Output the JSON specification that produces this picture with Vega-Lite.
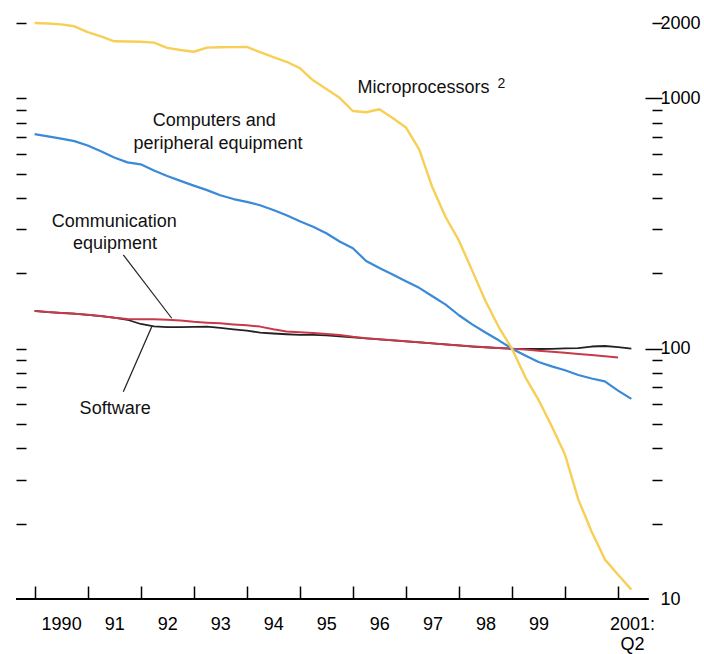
{
  "$schema": "https://vega.github.io/schema/vega-lite/v6.json",
  "width": 646,
  "height": 576,
  "autosize": {"type": "none"},
  "padding": {"left": 16, "top": 23, "right": 42, "bottom": 55},
  "background": "white",
  "config": {"view": {"stroke": null}, "font": "Liberation Sans"},
  "datasets": {
    "series": [
      {"s":"Software","t":1990,"v":141.5},{"s":"Software","t":1990.25,"v":140},{"s":"Software","t":1990.5,"v":139},{"s":"Software","t":1990.75,"v":138},
      {"s":"Software","t":1991,"v":136.5},{"s":"Software","t":1991.25,"v":135},{"s":"Software","t":1991.5,"v":133},{"s":"Software","t":1991.75,"v":130.5},
      {"s":"Software","t":1992,"v":125.5},{"s":"Software","t":1992.25,"v":122.7},{"s":"Software","t":1992.5,"v":122},{"s":"Software","t":1992.75,"v":122},
      {"s":"Software","t":1993,"v":122.3},{"s":"Software","t":1993.25,"v":122.5},{"s":"Software","t":1993.5,"v":121},{"s":"Software","t":1993.75,"v":119.5},
      {"s":"Software","t":1994,"v":118},{"s":"Software","t":1994.25,"v":116},{"s":"Software","t":1994.5,"v":115},{"s":"Software","t":1994.75,"v":114.2},
      {"s":"Software","t":1995,"v":113.5},{"s":"Software","t":1995.25,"v":113.5},{"s":"Software","t":1995.5,"v":113},{"s":"Software","t":1995.75,"v":112},
      {"s":"Software","t":1996,"v":111},{"s":"Software","t":1996.25,"v":110},{"s":"Software","t":1996.5,"v":109},{"s":"Software","t":1996.75,"v":108},
      {"s":"Software","t":1997,"v":107},{"s":"Software","t":1997.25,"v":106},{"s":"Software","t":1997.5,"v":105},{"s":"Software","t":1997.75,"v":104},
      {"s":"Software","t":1998,"v":103},{"s":"Software","t":1998.25,"v":102},{"s":"Software","t":1998.5,"v":101.3},{"s":"Software","t":1998.75,"v":100.6},
      {"s":"Software","t":1999,"v":100},{"s":"Software","t":1999.25,"v":99.8},{"s":"Software","t":1999.5,"v":99.7},{"s":"Software","t":1999.75,"v":99.8},
      {"s":"Software","t":2000,"v":100.2},{"s":"Software","t":2000.25,"v":100.6},{"s":"Software","t":2000.5,"v":102},{"s":"Software","t":2000.75,"v":102.5},
      {"s":"Software","t":2001,"v":101.5},{"s":"Software","t":2001.25,"v":100},

      {"s":"Communication equipment","t":1990,"v":141.5},{"s":"Communication equipment","t":1990.25,"v":140},{"s":"Communication equipment","t":1990.5,"v":139},{"s":"Communication equipment","t":1990.75,"v":138},
      {"s":"Communication equipment","t":1991,"v":136.5},{"s":"Communication equipment","t":1991.25,"v":135},{"s":"Communication equipment","t":1991.5,"v":133},{"s":"Communication equipment","t":1991.75,"v":131.5},
      {"s":"Communication equipment","t":1992,"v":131},{"s":"Communication equipment","t":1992.25,"v":131},{"s":"Communication equipment","t":1992.5,"v":130.6},{"s":"Communication equipment","t":1992.75,"v":129.5},
      {"s":"Communication equipment","t":1993,"v":128},{"s":"Communication equipment","t":1993.25,"v":127},{"s":"Communication equipment","t":1993.5,"v":126.3},{"s":"Communication equipment","t":1993.75,"v":125},
      {"s":"Communication equipment","t":1994,"v":124},{"s":"Communication equipment","t":1994.25,"v":122.5},{"s":"Communication equipment","t":1994.5,"v":119.5},{"s":"Communication equipment","t":1994.75,"v":117},
      {"s":"Communication equipment","t":1995,"v":116.3},{"s":"Communication equipment","t":1995.25,"v":115.5},{"s":"Communication equipment","t":1995.5,"v":114.5},{"s":"Communication equipment","t":1995.75,"v":113.5},
      {"s":"Communication equipment","t":1996,"v":111.5},{"s":"Communication equipment","t":1996.25,"v":110},{"s":"Communication equipment","t":1996.5,"v":109},{"s":"Communication equipment","t":1996.75,"v":108},
      {"s":"Communication equipment","t":1997,"v":107},{"s":"Communication equipment","t":1997.25,"v":106},{"s":"Communication equipment","t":1997.5,"v":105},{"s":"Communication equipment","t":1997.75,"v":104},
      {"s":"Communication equipment","t":1998,"v":103},{"s":"Communication equipment","t":1998.25,"v":102.2},{"s":"Communication equipment","t":1998.5,"v":101.3},{"s":"Communication equipment","t":1998.75,"v":100.6},
      {"s":"Communication equipment","t":1999,"v":100},{"s":"Communication equipment","t":1999.25,"v":99.2},{"s":"Communication equipment","t":1999.5,"v":98.2},{"s":"Communication equipment","t":1999.75,"v":97.3},
      {"s":"Communication equipment","t":2000,"v":96.3},{"s":"Communication equipment","t":2000.25,"v":95.3},{"s":"Communication equipment","t":2000.5,"v":94.3},{"s":"Communication equipment","t":2000.75,"v":93.3},
      {"s":"Communication equipment","t":2001,"v":92.3},

      {"s":"Computers and peripheral equipment","t":1990,"v":720},{"s":"Computers and peripheral equipment","t":1990.25,"v":705},{"s":"Computers and peripheral equipment","t":1990.5,"v":690},{"s":"Computers and peripheral equipment","t":1990.75,"v":675},
      {"s":"Computers and peripheral equipment","t":1991,"v":648},{"s":"Computers and peripheral equipment","t":1991.25,"v":615},{"s":"Computers and peripheral equipment","t":1991.5,"v":580},{"s":"Computers and peripheral equipment","t":1991.75,"v":555},
      {"s":"Computers and peripheral equipment","t":1992,"v":545},{"s":"Computers and peripheral equipment","t":1992.25,"v":515},{"s":"Computers and peripheral equipment","t":1992.5,"v":490},{"s":"Computers and peripheral equipment","t":1992.75,"v":468},
      {"s":"Computers and peripheral equipment","t":1993,"v":448},{"s":"Computers and peripheral equipment","t":1993.25,"v":430},{"s":"Computers and peripheral equipment","t":1993.5,"v":410},{"s":"Computers and peripheral equipment","t":1993.75,"v":396},
      {"s":"Computers and peripheral equipment","t":1994,"v":386},{"s":"Computers and peripheral equipment","t":1994.25,"v":374},{"s":"Computers and peripheral equipment","t":1994.5,"v":358},{"s":"Computers and peripheral equipment","t":1994.75,"v":341},
      {"s":"Computers and peripheral equipment","t":1995,"v":323},{"s":"Computers and peripheral equipment","t":1995.25,"v":307},{"s":"Computers and peripheral equipment","t":1995.5,"v":289},{"s":"Computers and peripheral equipment","t":1995.75,"v":268},
      {"s":"Computers and peripheral equipment","t":1996,"v":252},{"s":"Computers and peripheral equipment","t":1996.25,"v":224},{"s":"Computers and peripheral equipment","t":1996.5,"v":210},{"s":"Computers and peripheral equipment","t":1996.75,"v":198},
      {"s":"Computers and peripheral equipment","t":1997,"v":186},{"s":"Computers and peripheral equipment","t":1997.25,"v":175},{"s":"Computers and peripheral equipment","t":1997.5,"v":162},{"s":"Computers and peripheral equipment","t":1997.75,"v":150},
      {"s":"Computers and peripheral equipment","t":1998,"v":136},{"s":"Computers and peripheral equipment","t":1998.25,"v":125},{"s":"Computers and peripheral equipment","t":1998.5,"v":116},{"s":"Computers and peripheral equipment","t":1998.75,"v":108},
      {"s":"Computers and peripheral equipment","t":1999,"v":100},{"s":"Computers and peripheral equipment","t":1999.25,"v":94},{"s":"Computers and peripheral equipment","t":1999.5,"v":88.5},{"s":"Computers and peripheral equipment","t":1999.75,"v":85},
      {"s":"Computers and peripheral equipment","t":2000,"v":82},{"s":"Computers and peripheral equipment","t":2000.25,"v":78.5},{"s":"Computers and peripheral equipment","t":2000.5,"v":76},{"s":"Computers and peripheral equipment","t":2000.75,"v":74},
      {"s":"Computers and peripheral equipment","t":2001,"v":68},{"s":"Computers and peripheral equipment","t":2001.25,"v":63},

      {"s":"Microprocessors","t":1990,"v":2000},{"s":"Microprocessors","t":1990.25,"v":1990},{"s":"Microprocessors","t":1990.5,"v":1975},{"s":"Microprocessors","t":1990.75,"v":1940},
      {"s":"Microprocessors","t":1991,"v":1840},{"s":"Microprocessors","t":1991.25,"v":1770},{"s":"Microprocessors","t":1991.5,"v":1690},{"s":"Microprocessors","t":1991.75,"v":1687},
      {"s":"Microprocessors","t":1992,"v":1684},{"s":"Microprocessors","t":1992.25,"v":1670},{"s":"Microprocessors","t":1992.5,"v":1591},{"s":"Microprocessors","t":1992.75,"v":1560},
      {"s":"Microprocessors","t":1993,"v":1535},{"s":"Microprocessors","t":1993.25,"v":1595},{"s":"Microprocessors","t":1993.5,"v":1600},{"s":"Microprocessors","t":1993.75,"v":1602},
      {"s":"Microprocessors","t":1994,"v":1605},{"s":"Microprocessors","t":1994.25,"v":1530},{"s":"Microprocessors","t":1994.5,"v":1460},{"s":"Microprocessors","t":1994.75,"v":1400},
      {"s":"Microprocessors","t":1995,"v":1320},{"s":"Microprocessors","t":1995.25,"v":1180},{"s":"Microprocessors","t":1995.5,"v":1090},{"s":"Microprocessors","t":1995.75,"v":1005},
      {"s":"Microprocessors","t":1996,"v":890},{"s":"Microprocessors","t":1996.25,"v":880},{"s":"Microprocessors","t":1996.5,"v":905},{"s":"Microprocessors","t":1996.75,"v":835},
      {"s":"Microprocessors","t":1997,"v":765},{"s":"Microprocessors","t":1997.25,"v":625},{"s":"Microprocessors","t":1997.5,"v":440},{"s":"Microprocessors","t":1997.75,"v":335},
      {"s":"Microprocessors","t":1998,"v":270},{"s":"Microprocessors","t":1998.25,"v":205},{"s":"Microprocessors","t":1998.5,"v":155},{"s":"Microprocessors","t":1998.75,"v":122},
      {"s":"Microprocessors","t":1999,"v":100},{"s":"Microprocessors","t":1999.25,"v":77},{"s":"Microprocessors","t":1999.5,"v":62.5},{"s":"Microprocessors","t":1999.75,"v":49},
      {"s":"Microprocessors","t":2000,"v":37.7},{"s":"Microprocessors","t":2000.25,"v":25},{"s":"Microprocessors","t":2000.5,"v":18.6},{"s":"Microprocessors","t":2000.75,"v":14.4},
      {"s":"Microprocessors","t":2001,"v":12.5},{"s":"Microprocessors","t":2001.25,"v":10.9}
    ],
    "baseline": [{"t": 1989.649, "t2": 2001.58, "v": 10}],
    "leaders": [
      {"t": 1991.672, "v": 236.8, "t2": 1992.585, "v2": 132.3},
      {"t": 1992.208, "v": 122.4, "t2": 1991.672, "v2": 67.3}
    ],
    "labels": [
      {"t": 1997.33, "v": 1100, "text": "Microprocessors"},
      {"t": 1993.386, "v": 815, "text": "Computers and"},
      {"t": 1993.458, "v": 655, "text": "peripheral equipment"},
      {"t": 1991.5, "v": 320, "text": "Communication"},
      {"t": 1991.516, "v": 262, "text": "equipment"},
      {"t": 1991.518, "v": 57.5, "text": "Software"}
    ],
    "notes": [{"t": 1998.80, "v": 1140, "text": "2"}]
  },
  "layer": [
    {
      "data": {"name": "series"},
      "mark": {"type": "line", "interpolate": "linear", "strokeJoin": "round", "strokeCap": "butt"},
      "encoding": {
        "x": {
          "field": "t", "type": "quantitative",
          "scale": {"domain": [1989.649, 2001.828], "nice": false, "zero": false},
          "axis": {
            "values": [1990, 1991, 1992, 1993, 1994, 1995, 1996, 1997, 1998, 1999, 2000, 2001],
            "title": null, "grid": false, "domain": false,
            "tickSize": -13, "tickWidth": 1.5, "tickColor": "#000",
            "labelExpr": "datum.value == 1990 ? '1990' : datum.value == 2000 ? '' : datum.value == 2001 ? ['2001:', 'Q2'] : substring(toString(datum.value), 2)",
            "labelOffset": {"condition": {"test": "datum.value == 2001", "value": 14}, "value": 26.5},
            "labelFont": "Liberation Sans", "labelFontSize": 18, "labelColor": "#000",
            "labelPadding": 29, "labelLineHeight": 20, "labelBaseline": "top",
            "labelFlush": false, "labelOverlap": false, "labelBound": false
          }
        },
        "y": {
          "field": "v", "type": "quantitative",
          "scale": {"type": "log", "domain": [10, 2000], "nice": false},
          "axis": {
            "orient": "right",
            "values": [10, 20, 30, 40, 50, 60, 70, 80, 90, 100, 200, 300, 400, 500, 600, 700, 800, 900, 1000, 2000],
            "title": null, "grid": false, "domain": false,
            "tickSize": {"condition": {"test": "datum.value == 100 || datum.value == 1000", "value": -17}, "value": -10},
            "tickOpacity": {"condition": {"test": "datum.value == 10", "value": 0}, "value": 1},
            "tickWidth": 1.5, "tickColor": "#000",
            "labelExpr": "(datum.value == 10 || datum.value == 100 || datum.value == 1000 || datum.value == 2000) ? format(datum.value, 'd') : ''",
            "labelFont": "Liberation Sans", "labelFontSize": 18, "labelColor": "#000",
            "labelPadding": {"condition": {"test": "datum.value == 100 || datum.value == 1000", "value": 15}, "value": 8},
            "labelAlign": "left", "labelBaseline": "middle",
            "labelFlush": false, "labelOverlap": false, "labelBound": false
          }
        },
        "color": {
          "field": "s", "type": "nominal", "legend": null,
          "scale": {
            "domain": ["Software", "Communication equipment", "Computers and peripheral equipment", "Microprocessors"],
            "range": ["#222222", "#c8394a", "#3a8ad6", "#f8cf55"]
          }
        },
        "strokeWidth": {
          "field": "s", "type": "nominal", "legend": null,
          "scale": {
            "domain": ["Software", "Communication equipment", "Computers and peripheral equipment", "Microprocessors"],
            "range": [1.8, 2.4, 2.7, 2.7]
          }
        },
        "order": {"field": "t", "type": "quantitative"}
      }
    },
    {
      "data": {"name": "baseline"},
      "mark": {"type": "rule", "color": "#000", "strokeWidth": 2},
      "encoding": {
        "x": {"field": "t", "type": "quantitative"},
        "x2": {"field": "t2"},
        "y": {
          "field": "v", "type": "quantitative",
          "scale": {"type": "log", "domain": [10, 2000], "nice": false},
          "axis": {
            "orient": "left",
            "values": [20, 30, 40, 50, 60, 70, 80, 90, 100, 200, 300, 400, 500, 600, 700, 800, 900, 1000, 2000],
            "title": null, "grid": false, "domain": false, "labels": false,
            "tickSize": -10, "tickWidth": 1.5, "tickColor": "#000"
          }
        }
      }
    },
    {
      "data": {"name": "leaders"},
      "mark": {"type": "rule", "color": "#222", "strokeWidth": 1.2},
      "encoding": {
        "x": {"field": "t", "type": "quantitative"},
        "x2": {"field": "t2"},
        "y": {"field": "v", "type": "quantitative", "axis": null},
        "y2": {"field": "v2"}
      }
    },
    {
      "data": {"name": "labels"},
      "mark": {"type": "text", "font": "Liberation Sans", "fontSize": 18, "color": "#111", "align": "center", "baseline": "middle"},
      "encoding": {
        "x": {"field": "t", "type": "quantitative"},
        "y": {"field": "v", "type": "quantitative", "axis": null},
        "text": {"field": "text"}
      }
    },
    {
      "data": {"name": "notes"},
      "mark": {"type": "text", "font": "Liberation Sans", "fontSize": 14, "color": "#111", "align": "center", "baseline": "middle"},
      "encoding": {
        "x": {"field": "t", "type": "quantitative"},
        "y": {"field": "v", "type": "quantitative", "axis": null},
        "text": {"field": "text"}
      }
    }
  ],
  "resolve": {"axis": {"y": "independent"}}
}
